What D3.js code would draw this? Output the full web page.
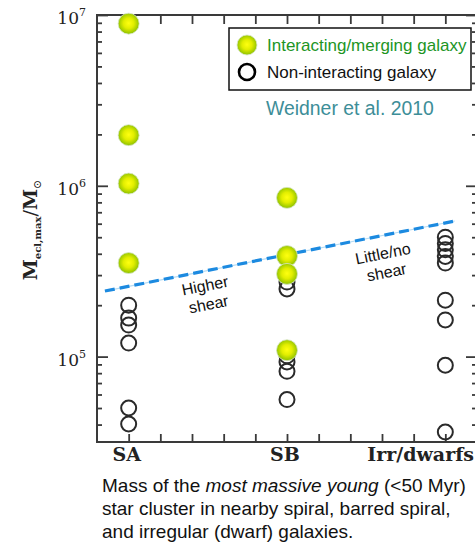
<!DOCTYPE html>
<html>
<head>
<meta charset="utf-8">
<script src="https://cdn.jsdelivr.net/npm/d3@7"></script>
<style>
  body { margin: 0; background: #fff; }
  svg { display: block; }
</style>
</head>
<body>
<script>
// Galaxy types along the x axis and their positions (in tick units)
const categories = ["SA", "SB", "Irr/dwarfs"];
const categoryPos = [1, 6, 11];

// Most massive young cluster mass (M_sun) per galaxy
const saInteracting = [8.9e6, 1.98e6, 1.03e6, 3.53e5];
const saIsolated = [2.0e5, 1.68e5, 1.53e5, 1.2e5, 5.0e4, 4.03e4];
const sbInteracting = [8.5e5, 3.88e5, 3.05e5, 1.09e5];
const sbIsolated = [2.73e5, 2.49e5, 1.01e5, 9.3e4, 8.2e4, 5.6e4];
const irrInteracting = [];
const irrIsolated = [5.0e5, 4.6e5, 4.22e5, 3.86e5, 3.53e5, 2.14e5, 1.64e5, 8.9e4, 3.62e4];

// Shear divider line (x in tick units, y in M_sun)
const shearX = [0.25, 11.3];
const shearMass = [2.42e5, 6.22e5];

// Axis tick exponents
const majorExponents = [5, 6, 7];

const W = 475, H = 544;
const svg = d3.select("body").append("svg")
  .attr("width", W).attr("height", H)
  .attr("viewBox", `0 0 ${W} ${H}`);

const x = d3.scaleLinear().domain([0, 12]).range([97, 477]);
const y = d3.scaleLog().domain([Math.pow(10, 4.5), 1e7]).range([442, 15]);

const defs = svg.append("defs");
const grad = defs.append("radialGradient").attr("id", "ball")
  .attr("cx", "50%").attr("cy", "48%").attr("r", "55%");
grad.append("stop").attr("offset", "0%").attr("stop-color", "#ffff10");
grad.append("stop").attr("offset", "45%").attr("stop-color", "#e2ee00");
grad.append("stop").attr("offset", "100%").attr("stop-color", "#82bb00");

const frameColor = "#3a3a3a";

// Frame
svg.append("rect")
  .attr("x", x(0)).attr("y", y(1e7))
  .attr("width", x(12) - x(0)).attr("height", y.range()[0] - y(1e7))
  .attr("fill", "none").attr("stroke", frameColor).attr("stroke-width", 2);

// Tick values for the log axes
const [lo, hi] = y.domain();
const yTicks = [];
for (let e = 4; e <= 7; e++) {
  for (let m = 1; m <= 9; m++) {
    const v = m * Math.pow(10, e);
    if (v >= lo * 0.999 && v <= hi * 1.001) yTicks.push(v);
  }
}
const isMajor = v => Math.abs(Math.log10(v) - Math.round(Math.log10(v))) < 1e-9;

function styleAxis(g) {
  g.select(".domain").remove();
  g.selectAll(".tick line").attr("stroke", frameColor).attr("stroke-width", 1.8);
  g.selectAll(".tick text").remove();
}

// Bottom and top ticks
const xTickVals = d3.range(1, 12);
svg.append("g").attr("transform", `translate(0,${y.range()[0]})`)
  .call(d3.axisBottom(x).tickValues(xTickVals).tickSizeInner(-8).tickSizeOuter(0))
  .call(styleAxis);
svg.append("g").attr("transform", `translate(0,${y(1e7)})`)
  .call(d3.axisTop(x).tickValues(xTickVals).tickSizeInner(-9).tickSizeOuter(0))
  .call(styleAxis);

// Left and right log ticks
const left = svg.append("g").attr("transform", `translate(${x(0)},0)`)
  .call(d3.axisLeft(y).tickValues(yTicks).tickSizeInner(-5).tickSizeOuter(0))
  .call(styleAxis);
left.selectAll(".tick line").filter(isMajor).attr("x2", 11);
const right = svg.append("g").attr("transform", `translate(${x(12)},0)`)
  .call(d3.axisRight(y).tickValues(yTicks).tickSizeInner(-5).tickSizeOuter(0))
  .call(styleAxis);
right.selectAll(".tick line").filter(isMajor).attr("x2", -11);

// Y tick labels 10^n
const serif = "'DejaVu Serif', 'Liberation Serif', serif";
majorExponents.forEach(e => {
  const t = svg.append("text")
    .attr("x", 86).attr("y", y(Math.pow(10, e)) + 9)
    .attr("text-anchor", "end")
    .attr("font-family", serif).attr("font-size", 17).attr("fill", "#222");
  t.append("tspan").text("10");
  t.append("tspan").attr("dy", -8).attr("font-size", 11).text(e);
});

// X category labels
categories.forEach((c, i) => {
  const last = i === categories.length - 1;
  svg.append("text")
    .attr("x", last ? x(categoryPos[i]) - 78 : x(categoryPos[i]) - 2)
    .attr("y", 461)
    .attr("text-anchor", last ? "start" : "middle")
    .attr("font-family", serif).attr("font-size", 19)
    .attr("font-weight", "bold").attr("fill", "#222")
    .text(c);
});

// Y axis title
const yt = svg.append("text")
  .attr("transform", "translate(37,230) rotate(-90)")
  .attr("text-anchor", "middle")
  .attr("font-family", serif).attr("fill", "#222");
yt.append("tspan").attr("font-size", 19).attr("font-weight", "bold").text("M");
yt.append("tspan").attr("font-size", 10).attr("dy", 4).attr("font-weight", "bold").text("ecl,max");
yt.append("tspan").attr("font-size", 19).attr("dy", -4).text("/");
yt.append("tspan").attr("font-size", 19).attr("font-weight", "bold").text("M");
yt.append("tspan").attr("font-size", 11).attr("dy", 4).text("\u2299");

// Data points
const groups = [
  { pos: categoryPos[0], interacting: saInteracting, isolated: saIsolated },
  { pos: categoryPos[1], interacting: sbInteracting, isolated: sbIsolated },
  { pos: categoryPos[2], interacting: irrInteracting, isolated: irrIsolated }
];

const openPts = groups.flatMap(g => g.isolated.map(v => ({ x: g.pos, v })));
const filledPts = groups.flatMap(g => g.interacting.map(v => ({ x: g.pos, v })));

svg.append("g").selectAll("circle").data(openPts).join("circle")
  .attr("cx", d => x(d.x)).attr("cy", d => y(d.v)).attr("r", 7.5)
  .attr("fill", "none").attr("stroke", "#2a2a2a").attr("stroke-width", 2);

// Shear divider
const shearPts = shearX.map((xv, i) => [x(xv), y(shearMass[i])]);
const lineGen = d3.line();
svg.append("path").attr("d", lineGen(shearPts))
  .attr("stroke", "#b6dcf4").attr("stroke-width", 1.2).attr("fill", "none");
svg.append("path").attr("d", lineGen(shearPts))
  .attr("stroke", "#1c8ae0").attr("stroke-width", 3.2).attr("fill", "none")
  .attr("stroke-dasharray", "10,5");

svg.append("g").selectAll("circle").data(filledPts).join("circle")
  .attr("cx", d => x(d.x)).attr("cy", d => y(d.v)).attr("r", 10.5)
  .attr("fill", "url(#ball)").attr("stroke", "#d8e6c8").attr("stroke-width", 0.8);

// Shear annotations
const sans = "'Liberation Sans', Arial, sans-serif";
const angle = Math.atan2(shearPts[1][1] - shearPts[0][1], shearPts[1][0] - shearPts[0][0]) * 180 / Math.PI;
function note(cx, cy, lines) {
  const t = svg.append("text")
    .attr("transform", `translate(${cx},${cy}) rotate(${angle})`)
    .attr("text-anchor", "middle").attr("font-family", sans)
    .attr("font-size", 16).attr("fill", "#111");
  lines.forEach((l, i) => t.append("tspan").attr("x", 0).attr("dy", i === 0 ? 0 : 19).text(l));
}
note(206, 291, ["Higher", "shear"]);
note(384, 259, ["Little/no", "shear"]);

// Legend
const lg = svg.append("g");
lg.append("rect").attr("x", 229).attr("y", 28).attr("width", 242).attr("height", 62)
  .attr("fill", "#fff").attr("stroke", "#111").attr("stroke-width", 1.5);
lg.append("circle").attr("cx", 247).attr("cy", 45).attr("r", 10)
  .attr("fill", "url(#ball)").attr("stroke", "#d8e6c8").attr("stroke-width", 0.8);
lg.append("circle").attr("cx", 247).attr("cy", 72).attr("r", 8)
  .attr("fill", "none").attr("stroke", "#000").attr("stroke-width", 2.6);
lg.append("text").attr("x", 267).attr("y", 51)
  .attr("font-family", sans).attr("font-size", 17).attr("fill", "#21951f")
  .text("Interacting/merging galaxy");
lg.append("text").attr("x", 267).attr("y", 78)
  .attr("font-family", sans).attr("font-size", 17).attr("fill", "#111")
  .text("Non-interacting galaxy");

svg.append("text").attr("x", 266).attr("y", 115)
  .attr("font-family", sans).attr("font-size", 19.4).attr("fill", "#3d8e98")
  .text("Weidner et al. 2010");

// Caption
const cap = svg.append("text").attr("font-family", sans).attr("font-size", 19).attr("fill", "#111");
const l1 = cap.append("tspan").attr("x", 102).attr("y", 492);
l1.append("tspan").text("Mass of the ");
l1.append("tspan").attr("font-style", "italic").text("most massive young");
l1.append("tspan").text(" (<50 Myr)");
cap.append("tspan").attr("x", 102).attr("y", 515).text("star cluster in nearby spiral, barred spiral,");
cap.append("tspan").attr("x", 102).attr("y", 538).text("and irregular (dwarf) galaxies.");
</script>
</body>
</html>
